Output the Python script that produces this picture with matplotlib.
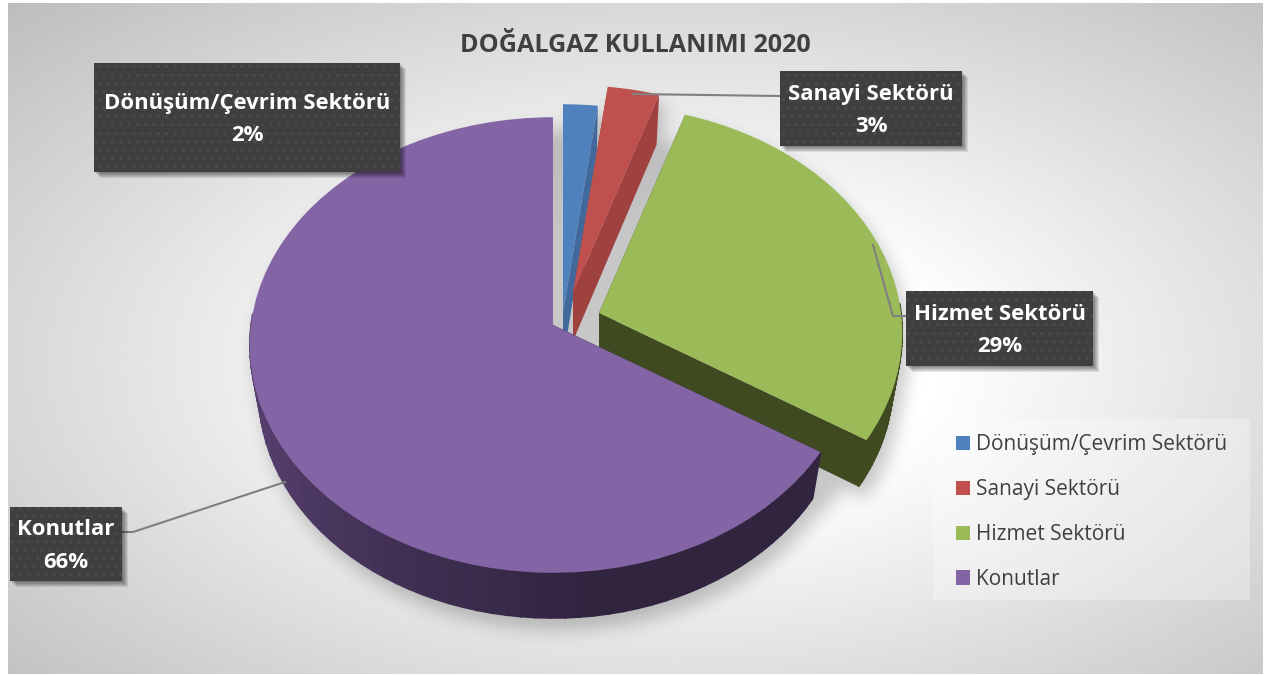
import numpy as np
import matplotlib
matplotlib.use('Agg')
import matplotlib.pyplot as plt
from matplotlib.patches import Rectangle
from matplotlib.transforms import Transform, Affine2D
from matplotlib.colors import to_rgb

title = 'DOĞALGAZ KULLANIMI 2020'
sectors = ['Dönüşüm/Çevrim Sektörü', 'Sanayi Sektörü', 'Hizmet Sektörü', 'Konutlar']
values = [2, 3, 29, 66]

face_colors = ['#4f81bd', '#c0504d', '#9bbb59', '#8364a4']
wall_start = ['#41699b', '#9e413f', '#3f4a20', '#5c4475']
wall_end = ['#41699b', '#9e413f', '#3f4a20', '#30243f']
# how far each slice is pulled out of the pie, in pixels
pull = [(10, -13), (20, -32), (46, -12), (0, 0)]

label_boxes = [(94, 63, 306, 109), (780, 71, 182, 75), (906, 291, 187, 75), (10, 507, 112, 74)]
leaders = [[(0, 0)],
           [(780, 96), (633, 94)],
           [(906, 316), (893, 316), (873, 245)],
           [(122, 532), (133, 532), (285, 482)]]

PIVOT = (553, 325)
RX, RY, K = 302, 226, 0.088
DEPTH, SHRINK = 48, 0.03


class Persp(Transform):
    # unit disc -> pixels around the pivot, t=0 top face, t=1 underside
    input_dims = output_dims = 2

    def __init__(self, t=0):
        super().__init__()
        self.t = t

    def transform_non_affine(self, xy):
        xy = np.asarray(xy, float)
        w = 1 + K * xy[:, 1]
        s = (1 - SHRINK * self.t) / w
        return np.column_stack((RX * xy[:, 0] * s, -RY * xy[:, 1] * s + DEPTH * self.t / w))


def mix(c1, c2, f):
    return tuple((1 - f) * a + f * b for a, b in zip(to_rgb(c1), to_rgb(c2)))


def box_blur(a, r, passes=3):
    for _ in range(passes):
        for axis in (0, 1):
            c = np.cumsum(np.insert(a, 0, 0, axis=axis), axis=axis)
            n = a.shape[axis]
            hi = np.clip(np.arange(n) + r + 1, 0, n)
            lo = np.clip(np.arange(n) - r, 0, n)
            a = (np.take(c, hi, axis=axis) - np.take(c, lo, axis=axis)) / (2 * r + 1)
    return a


fig = plt.figure(figsize=(12.68, 6.75), dpi=100)
ax = fig.add_axes([0, 0, 1, 1])
wedges, _ = ax.pie(values, startangle=90, counterclock=False, colors=face_colors)
ax.set_aspect('auto')
ax.set_xlim(0, 1268)
ax.set_ylim(675, 0)
ax.axis('off')

for i, w in enumerate(wedges):
    move = Affine2D().translate(PIVOT[0] + pull[i][0], PIVOT[1] + pull[i][1])
    w.set_transform(Persp() + move + ax.transData)
    w.set_zorder(3 + 2 * i)
    w.set_linewidth(0)

    top = Persp(0) + move
    low = Persp(1) + move
    # straight sides of the slice
    for a in (w.theta1, w.theta2):
        p = [[0, 0], [np.cos(np.radians(a)), np.sin(np.radians(a))]]
        q = np.vstack((top.transform(p), low.transform(p)[::-1]))
        ax.fill(q[:, 0], q[:, 1], color=wall_end[i] if i == 3 else wall_start[i], lw=0, zorder=2 + 2 * i)
    # rim, in short pieces so the colour can change along it; the back of it is hidden
    th = np.radians(np.linspace(w.theta1, w.theta2, 91))
    for j in range(90):
        if np.sin(th[j:j + 2]).min() > 0.03:
            continue
        p = np.column_stack((np.cos(th[j:j + 2]), np.sin(th[j:j + 2])))
        q = np.vstack((top.transform(p), low.transform(p)[::-1]))
        f = np.clip((np.degrees(th[j]) % 360 - 185) / 90, 0, 1)
        ax.fill(q[:, 0], q[:, 1], color=mix(wall_start[i], wall_end[i], f), lw=1.2, zorder=2 + 2 * i)

# soft shadow taken from what has been drawn, plus a whole disc that fills the gaps
ring = np.radians(np.arange(0, 360, 2))
disc_pts = (Persp(0) + Affine2D().scale(1.03).translate(PIVOT[0] + 16, PIVOT[1] + 11)).transform(
    np.column_stack((np.cos(ring), np.sin(ring))))
disc = ax.fill(disc_pts[:, 0], disc_pts[:, 1], color='k', lw=0, zorder=1)[0]
fig.patch.set_alpha(0)
fig.canvas.draw()
mask = np.asarray(fig.canvas.buffer_rgba())[:, :, 3] / 255.0
disc.remove()
fig.patch.set_alpha(1)
fig.patch.set_facecolor('white')
shadow = box_blur(np.roll(mask, (11, 6), axis=(0, 1)), 8)
rgba = np.zeros(mask.shape + (4,))
rgba[:, :, 3] = shadow * 0.22
H, W = mask.shape

yy, xx = np.mgrid[0:H, 0:W]
d = np.sqrt(((xx - 680) / 640.0) ** 2 + ((yy - 360) / 340.0) ** 2)
grey = 1 - 0.27 * np.clip((d - 0.4) / 1.15, 0, 1)
ax.imshow(grey, cmap='gray', vmin=0, vmax=1, extent=(8, 1263, 674, 3), aspect='auto', zorder=0)
ax.imshow(rgba, extent=(0, W, H, 0), aspect='auto', zorder=1)
ax.set_xlim(0, 1268)
ax.set_ylim(675, 0)

ax.text(635, 45, title, ha='center', va='center', fontsize=18.1, fontweight='bold',
        family='Open Sans', color='#404040', zorder=30)

for i, (x, y, bw, bh) in enumerate(label_boxes):
    if len(leaders[i]) > 1:
        ax.plot(*zip(*leaders[i]), color='#7f7f7f', lw=1.5, zorder=20)
    for k in range(6):
        ax.add_patch(Rectangle((x + 1 + k, y + 1 + k), bw, bh, fc='black', alpha=0.09, lw=0, zorder=21))
    ax.add_patch(Rectangle((x, y), bw, bh, fc='#3f3f3f', ec='#4b4b4b', hatch='..', lw=0, zorder=22))
    ax.text(x + bw / 2, y + bh / 2 + 2, f'{sectors[i]}\n{values[i]}%', ha='center', va='center',
            color='white', fontsize=15.9, fontweight='bold', family='Open Sans',
            linespacing=1.7, zorder=23)

ax.add_patch(Rectangle((933, 419), 317, 181, fc='white', alpha=0.3, lw=0, zorder=24))
leg = ax.legend(wedges, sectors, loc='upper left', bbox_to_anchor=(956, 434), bbox_transform=ax.transData,
                frameon=False, prop={'family': 'Open Sans', 'size': 15}, labelcolor='#404040',
                handlelength=0.67, handleheight=0.67, handletextpad=0.29, labelspacing=1.15,
                borderpad=0, borderaxespad=0)
leg.set_zorder(25)

fig.savefig('out.png', dpi=100, facecolor='white')
